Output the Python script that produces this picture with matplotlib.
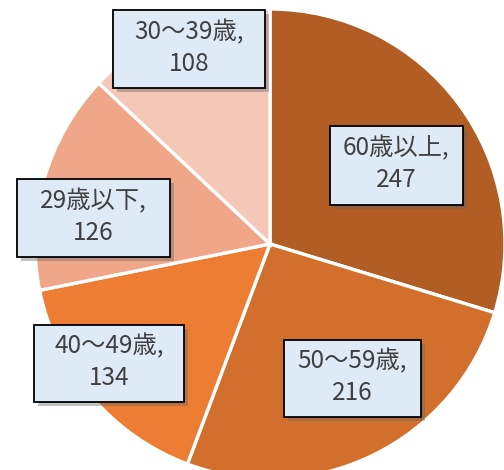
"""Pie chart of respondents by age group"""

import matplotlib
matplotlib.use("Agg")
import matplotlib.pyplot as plt
import matplotlib.patheffects as pe
from matplotlib.patches import Rectangle

plt.rcParams['font.family'] = ['Noto Sans CJK JP', 'DejaVu Sans']

# data
labels = ['60歳以上', '50～59歳', '40～49歳', '29歳以下', '30～39歳']
values = [247, 216, 134, 126, 108]
colors = ['#B15D23', '#D36F2D', '#EC7D32', '#F0A688', '#F5C7B7']

# label boxes (pixel layout: centre x, centre y from top, width, height)
W, H = 504, 470
boxes = [(396, 165, 133, 79), (352, 378, 137, 77), (109, 363, 150, 77),
         (93, 218, 153, 78), (189, 49, 152, 78)]

fig = plt.figure(figsize=(W / 100, H / 100), dpi=100)
ax = fig.add_axes([0, 0, 1, 1])

ax.pie(values, colors=colors, startangle=90, counterclock=False,
       center=(270, H - 244), radius=235, frame=True,
       wedgeprops=dict(edgecolor='white', linewidth=2.4))
ax.set_xlim(0, W)
ax.set_ylim(0, H)
ax.axis('off')

for lab, val, (cx, cy, bw, bh) in zip(labels, values, boxes):
    y = H - cy
    rect = Rectangle((cx - bw / 2, y - bh / 2), bw, bh, facecolor='#DEEAF6',
                     edgecolor='black', linewidth=1.3, zorder=5)
    rect.set_path_effects([pe.SimplePatchShadow(offset=(3, -3), shadow_rgbFace='#666666', alpha=0.4),
                           pe.Normal()])
    ax.add_patch(rect)
    ax.text(cx, y + 1, f'{lab},\n{val}', ha='center', va='center', fontsize=17.5,
            color='#404040', linespacing=1.3, zorder=6)

plt.savefig('out.png', dpi=100)
